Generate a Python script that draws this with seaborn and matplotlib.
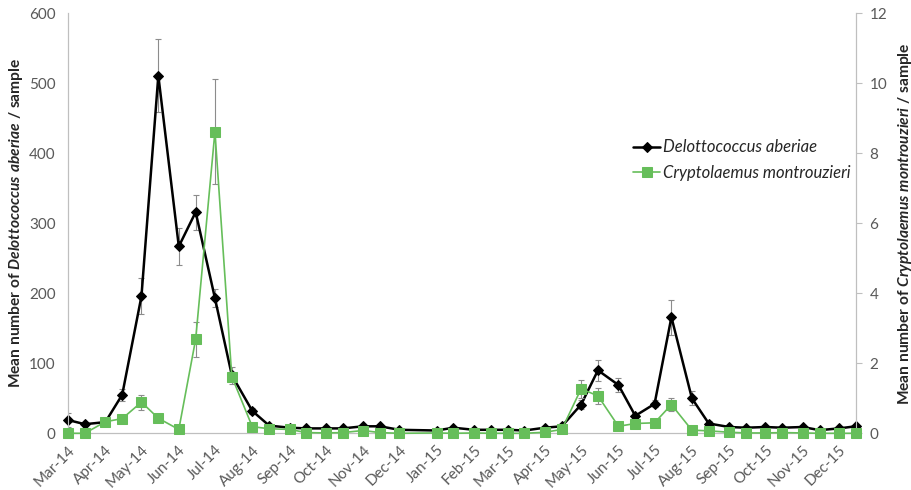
import pandas as pd
import numpy as np
import matplotlib
matplotlib.use("Agg")
import matplotlib.pyplot as plt
import matplotlib.dates as mdates
import seaborn as sns

# sampling dates (1st and 15th of each month)
dates = ["2014-03-01", "2014-03-15", "2014-04-01", "2014-04-15", "2014-05-01", "2014-05-15",
         "2014-06-01", "2014-06-15", "2014-07-01", "2014-07-15", "2014-08-01", "2014-08-15",
         "2014-09-01", "2014-09-15", "2014-10-01", "2014-10-15", "2014-11-01", "2014-11-15",
         "2014-12-01",
         "2015-01-01", "2015-01-15", "2015-02-01", "2015-02-15", "2015-03-01", "2015-03-15",
         "2015-04-01", "2015-04-15", "2015-05-01", "2015-05-15", "2015-06-01", "2015-06-15",
         "2015-07-01", "2015-07-15", "2015-08-01", "2015-08-15", "2015-09-01", "2015-09-15",
         "2015-10-01", "2015-10-15", "2015-11-01", "2015-11-15", "2015-12-01", "2015-12-15"]

# Delottococcus aberiae (left axis)
aberiae = [19, 13, 16, 55, 196, 511, 267, 316, 193, 83, 32, 11, 8, 7, 7, 7, 10, 10, 5,
           4, 8, 5, 5, 5, 4, 8, 10, 41, 90, 69, 25, 42, 166, 50, 14, 9, 8, 9, 8, 9, 4.5, 7, 10]
aberiae_err = [10, 3, 3, 9, 26, 52, 26, 25, 13, 12, 4, 2, 1, 1, 1, 1, 2, 2, 1,
               1, 2, 1, 1, 1, 1, 2, 2, 6, 15, 10, 4, 5, 25, 10, 3, 1, 1, 1, 1, 1, 1, 1, 2]

# Cryptolaemus montrouzieri (right axis)
montrouzieri = [0, 0, 0.33, 0.42, 0.89, 0.43, 0.11, 2.69, 8.62, 1.62, 0.19, 0.13, 0.11, 0.02, 0.01,
                0.02, 0.08, 0.02, 0.0,
                0.01, 0.0, 0.01, 0.0, 0.0, 0.0, 0.03, 0.11, 1.27, 1.07, 0.2, 0.28, 0.3, 0.82,
                0.09, 0.07, 0.03, 0.01, 0.01, 0.02, 0.01, 0.0, 0.0, 0.0]
montrouzieri_err = [0, 0, 0.03, 0.05, 0.21, 0.05, 0.02, 0.5, 1.5, 0.12, 0.03, 0.02, 0.02, 0.01, 0.01,
                    0.01, 0.02, 0.01, 0,
                    0, 0, 0, 0, 0, 0, 0.01, 0.03, 0.26, 0.22, 0.05, 0.06, 0.05, 0.19, 0.03, 0.02,
                    0.01, 0, 0, 0, 0, 0, 0, 0]

df = pd.DataFrame({"date": pd.to_datetime(dates), "aberiae": aberiae, "aberiae_err": aberiae_err,
                   "montrouzieri": montrouzieri, "montrouzieri_err": montrouzieri_err})

sns.set_style("white")
plt.rcParams["font.family"] = ["Lato", "DejaVu Sans"]
plt.rcParams["mathtext.fontset"] = "custom"
plt.rcParams["mathtext.rm"] = "Lato:bold"
plt.rcParams["mathtext.it"] = "Lato:bold:italic"

green = "#66BE5A"
grey = "#595959"
axis_col = "#BFBFBF"

fig = plt.figure(figsize=(9.12, 4.90), dpi=100)
ax = fig.add_axes([68 / 912, 1 - 433.3 / 490, (855.7 - 68) / 912, (433.3 - 13.3) / 490])
ax2 = ax.twinx()

# error bars
ax.errorbar(df["date"], df["aberiae"], yerr=df["aberiae_err"], fmt="none", ecolor="#8C8C8C",
            elinewidth=0.8, capsize=2.5, capthick=0.8, zorder=1)
ax2.errorbar(df["date"], df["montrouzieri"], yerr=df["montrouzieri_err"], fmt="none", ecolor="#8C8C8C",
             elinewidth=0.8, capsize=2.5, capthick=0.8, zorder=1)

sns.lineplot(data=df, x="date", y="aberiae", ax=ax, color="black", marker="D", markersize=5.5,
             markeredgecolor="black", linewidth=1.8, label="Delottococcus aberiae", legend=False,
             zorder=3, clip_on=False)
sns.lineplot(data=df, x="date", y="montrouzieri", ax=ax2, color=green, marker="s", markersize=7.8,
             markeredgecolor=green, linewidth=1.2, label="Cryptolaemus montrouzieri", legend=False,
             zorder=3, clip_on=False)

ax.set_xlim(pd.Timestamp("2014-03-01"), pd.Timestamp("2015-12-15"))
ax.set_ylim(0, 600)
ax2.set_ylim(0, 12)
ax.set_yticks(range(0, 601, 100))
ax2.set_yticks(range(0, 13, 2))

ax.xaxis.set_major_locator(mdates.MonthLocator())
ax.xaxis.set_major_formatter(mdates.DateFormatter("%b-%y"))
for lab in ax.get_xticklabels():
    lab.set_rotation(45)
    lab.set_ha("right")
    lab.set_rotation_mode("anchor")

ax.tick_params(axis="x", direction="out", length=4, width=0.8, color=axis_col, labelsize=11,
               labelcolor=grey, pad=3)
ax.tick_params(axis="y", length=0, labelsize=11, labelcolor=grey, pad=9)
ax2.tick_params(axis="y", direction="out", length=4, width=0.8, color=axis_col, labelsize=11,
                labelcolor=grey, pad=6)

for a in (ax, ax2):
    a.spines["top"].set_visible(False)
    for s in ("left", "right", "bottom"):
        a.spines[s].set_color(axis_col)
        a.spines[s].set_linewidth(0.8)
    a.grid(False)

ax.set_xlabel("")
ax.set_ylabel(r"Mean number of $\mathit{Delottococcus\ aberiae}$ / sample", fontsize=11.2,
              fontweight="bold")
ax.yaxis.set_label_coords(-43 / 787.7, 0.5)
ax2.set_ylabel(r"Mean number of $\mathit{Cryptolaemus\ montrouzieri}$ / sample", fontsize=11.2,
               fontweight="bold", labelpad=6)

handles = ax.get_lines()[-1:] + ax2.get_lines()[-1:]
leg = fig.legend(handles, ["Delottococcus aberiae", "Cryptolaemus montrouzieri"], loc="center left",
                 bbox_to_anchor=(633 / 912, 1 - 160 / 490), frameon=False, borderpad=0,
                 borderaxespad=0, handlelength=1.65, handletextpad=0.15, labelspacing=0.55,
                 prop={"size": 12, "style": "italic"})
for t in leg.get_texts():
    t.set_color("#262626")

fig.savefig("out.png", dpi=100)
